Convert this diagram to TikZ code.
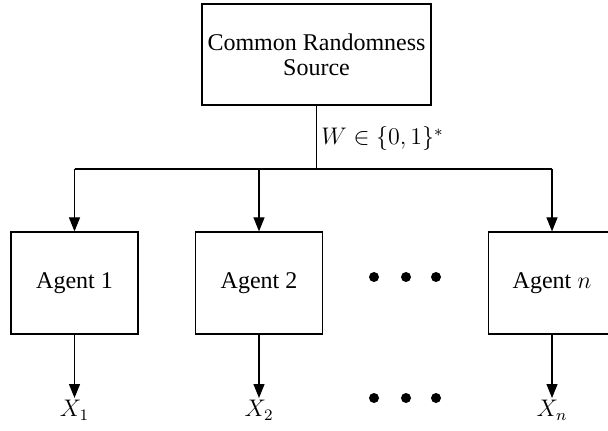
\documentclass[tikz,border=0pt]{standalone}
\usepackage{fontspec}
\setmainfont{Liberation Serif}
\usetikzlibrary{arrows.meta}
\begin{document}
\begin{tikzpicture}[x=0.5pt,y=-0.5pt,
  txt/.style={font=\fontsize{12}{12.5}\selectfont},
  box/.style={draw, line width=0.6pt, align=center, txt, inner xsep=2pt},
  agentbox/.style={box, minimum width=63.5pt, minimum height=51pt},
  arr/.style={-{Triangle[length=7pt,width=5.5pt]}, line width=0.6pt},
  ln/.style={line width=0.6pt},
  dotnode/.style={circle, fill, inner sep=0pt, minimum size=5pt},
  outlbl/.style={txt, anchor=north, inner sep=1pt}]
\useasboundingbox (0,0) rectangle (608,431);
\clip (0,0) rectangle (608,431);
\node[box, minimum width=114.5pt, minimum height=50.5pt] (src) at (316.5,54.5) {Common Randomness\\Source};
\node[agentbox] (a1) at (74.5,283) {Agent 1};
\node[agentbox] (a2) at (259,283) {Agent 2};
\node[agentbox] (an) at (552,283) {Agent $n$};
\coordinate (j) at (316.5,169);
\coordinate (hl) at (74.5,169);
\coordinate (hr) at (552,169);
\coordinate (h2) at (259,169);
\node[txt, anchor=base west, inner sep=0pt] (w) at (321,145) {$W\in\{0,1\}^*$};
\draw[ln] (src.south) -- (j);
\draw[ln] (hl) -- (hr);
\draw[arr] (hl) -- (a1.north);
\draw[arr] (h2) -- (a2.north);
\draw[arr] (hr) -- (an.north);
\node[outlbl] (x1) at (74.5,398) {$X_1$};
\node[outlbl] (x2) at (259,398) {$X_2$};
\node[outlbl] (xn) at (552,398) {$X_n$};
\draw[arr] (a1.south) -- (x1.north);
\draw[arr] (a2.south) -- (x2.north);
\draw[arr] (an.south) -- (xn.north);
\node[dotnode] (d1) at (374,277) {};
\node[dotnode] (d2) at (406,277) {};
\node[dotnode] (d3) at (436,277) {};
\node[dotnode] (d4) at (374,398) {};
\node[dotnode] (d5) at (406,398) {};
\node[dotnode] (d6) at (436,398) {};
\end{tikzpicture}
\end{document}
